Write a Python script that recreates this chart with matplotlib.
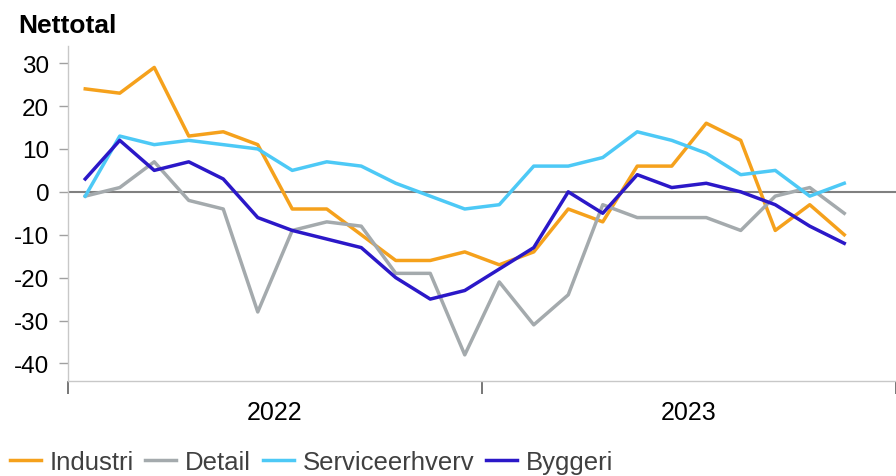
import numpy as np
import matplotlib
matplotlib.use('Agg')
import matplotlib.pyplot as plt

plt.rcParams['font.family'] = ['Liberation Sans', 'DejaVu Sans']

# maanedlige tal jan 2022 - nov 2023
industri = [24, 23, 29, 13, 14, 11, -4, -4, -10, -16, -16, -14,
            -17, -14, -4, -7, 6, 6, 16, 12, -9, -3, -10]
detail = [-1, 1, 7, -2, -4, -28, -9, -7, -8, -19, -19, -38,
          -21, -31, -24, -3, -6, -6, -6, -9, -1, 1, -5]
service = [-1, 13, 11, 12, 11, 10, 5, 7, 6, 2, -1, -4,
           -3, 6, 6, 8, 14, 12, 9, 4, 5, -1, 2]
byggeri = [3, 12, 5, 7, 3, -6, -9, -11, -13, -20, -25, -23,
           -18, -13, 0, -5, 4, 1, 2, 0, -3, -8, -12]
aar = ['2022', '2023']
yticks = [-40, -30, -20, -10, 0, 10, 20, 30]

serier = [('Industri', industri, '#F5A11C'),
          ('Detail', detail, '#A4AAAD'),
          ('Serviceerhverv', service, '#4DC9F6'),
          ('Byggeri', byggeri, '#2B18C8')]

fig = plt.figure(figsize=(8.96, 4.77), dpi=100)
ax = fig.add_axes([0.0759, 0.2, 0.9241, 0.7015])

x = np.arange(len(industri))
ax.axhline(0, color='#808080', lw=1.5, zorder=1)
for navn, vaerdier, farve in serier:
    ax.plot(x, vaerdier, color=farve, lw=2.5, label=navn, zorder=2)

ax.set_xlim(-0.5, 23.2)
ax.set_ylim(-44, 34)
ax.set_yticks(yticks)
ax.set_yticklabels([str(v) for v in yticks], fontsize=17.5)
ax.tick_params(axis='y', length=6.5, color='#A0A0A0', width=1, pad=7)

ax.set_xticks([-0.5, 11.5, 23.5])
ax.set_xticklabels([])
ax.tick_params(axis='x', which='major', length=9, color='#606060', width=1.2)
ax.set_xticks([5.5, 17.5], minor=True)
ax.set_xticklabels(aar, minor=True, fontsize=18)
ax.tick_params(axis='x', which='minor', length=0, pad=14)

for s in ['top', 'right']:
    ax.spines[s].set_visible(False)
ax.spines['left'].set_color('#C8C8C8')
ax.spines['bottom'].set_color('#C8C8C8')
ax.spines['left'].set_linewidth(1)
ax.spines['bottom'].set_linewidth(1)

fig.text(0.02, 0.945, 'Nettotal', fontsize=19, fontweight='bold', va='center')

leg = fig.legend(loc='center left', bbox_to_anchor=(0.011, 0.029), ncol=4,
                 frameon=False, fontsize=18.5, handlelength=1.2,
                 handletextpad=0.35, columnspacing=0.45, borderpad=0,
                 borderaxespad=0)
for t in leg.get_texts():
    t.set_color('#404040')

fig.savefig('out.png', dpi=100)
